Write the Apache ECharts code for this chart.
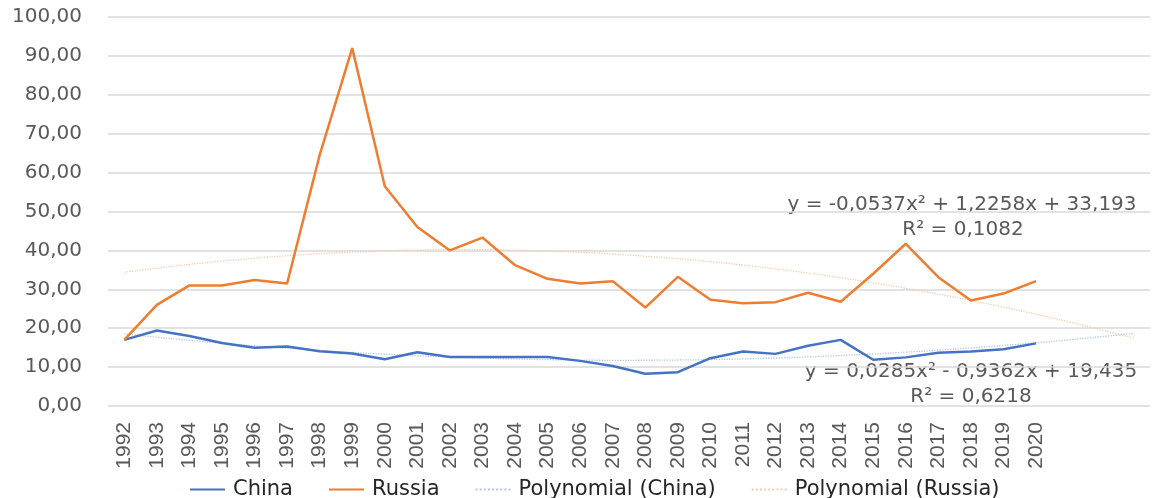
<!DOCTYPE html>
<html>
<head>
<meta charset="utf-8">
<script src="https://cdn.jsdelivr.net/npm/echarts@6/dist/echarts.min.js"></script>
<style>
  html, body { margin: 0; padding: 0; background: #fff; }
  #chart { width: 1157px; height: 498px; }
</style>
</head>
<body>
<div id="chart"></div>
<script>
// categories (the last 3 carry only the trendline forecast)
const years = ['1992','1993','1994','1995','1996','1997','1998','1999','2000','2001',
  '2002','2003','2004','2005','2006','2007','2008','2009','2010','2011',
  '2012','2013','2014','2015','2016','2017','2018','2019','2020','2021','2022','2023'];

const china = [17.0, 19.4, 18.0, 16.2, 15.0, 15.3, 14.1, 13.5, 12.0, 13.8,
  12.6, 12.6, 12.6, 12.6, 11.6, 10.3, 8.3, 8.7, 12.3, 14.0,
  13.4, 15.5, 17.0, 11.9, 12.5, 13.7, 14.0, 14.6, 16.1];

const russia = [17.0, 26.0, 31.0, 31.0, 32.4, 31.5, 64.5, 92.0, 56.5, 46.0,
  40.0, 43.3, 36.2, 32.7, 31.5, 32.1, 25.3, 33.2, 27.3, 26.4,
  26.7, 29.1, 26.8, 34.0, 41.7, 33.1, 27.1, 28.9, 32.1];

// polynomial trendlines as drawn (values read per category)
const chinaTrend = [18.53, 17.68, 16.88, 16.15, 15.47, 14.84, 14.28, 13.77, 13.32, 12.92,
  12.59, 12.31, 12.08, 11.91, 11.81, 11.75, 11.76, 11.82, 11.94, 12.11,
  12.34, 12.63, 12.98, 13.38, 13.84, 14.36, 14.93, 15.57, 16.25, 17.00, 17.80, 18.66];

const russiaTrend = [34.37, 35.43, 36.39, 37.24, 37.98, 38.62, 39.14, 39.56, 39.88, 40.08,
  40.18, 40.17, 40.05, 39.83, 39.50, 39.06, 38.51, 37.86, 37.10, 36.23,
  35.25, 34.17, 32.98, 31.68, 30.28, 28.76, 27.14, 25.42, 23.58, 21.64, 19.59, 17.43];

const yTicks = { min: 0, max: 100, interval: 10 };

const fontMain = "'DejaVu Sans', sans-serif";
const textGray = '#595959';

// legend icons: solid bar and a dotted bar
const solidIcon = 'path://M0,0H36V2H0Z';
let dotted = '';
for (let k = 0; k < 36; k += 4) {
  dotted += 'M' + k + ',0H' + (k + 2) + 'V2H' + k + 'Z';
}
const dottedIcon = 'path://' + dotted;

const myChart = echarts.init(document.getElementById('chart'));

const option = {
  backgroundColor: '#fff',
  animation: false,
  grid: {
    left: 108,
    right: 7,
    top: 17,
    bottom: 92,
    outerBoundsMode: 'none',
  },
  legend: {
    left: 185,
    top: 474,
    itemWidth: 35,
    itemHeight: 2.5,
    itemGap: 36,
    textStyle: {
      fontFamily: fontMain,
      fontSize: 21,
      color: '#262626',
      padding: [0, 0, 0, 3],
    },
    data: [
      { name: 'China', icon: solidIcon },
      { name: 'Russia', icon: solidIcon },
      { name: 'Polynomial (China)', icon: dottedIcon },
      { name: 'Polynomial (Russia)', icon: dottedIcon },
    ],
  },
  xAxis: {
    type: 'category',
    boundaryGap: true,
    data: years,
    axisLine: { show: false },
    axisTick: { show: false },
    axisLabel: {
      interval: 0,
      rotate: 90,
      margin: 16,
      fontFamily: "'Liberation Sans Narrow', 'Arial Narrow', 'Liberation Sans', sans-serif",
      fontSize: 21,
      color: textGray,
      formatter: function (v) {
        return Number(v) > 2020 ? '' : v;
      },
    },
  },
  yAxis: {
    type: 'value',
    min: yTicks.min,
    max: yTicks.max,
    interval: yTicks.interval,
    axisLine: { show: false },
    axisTick: { show: false },
    splitLine: { lineStyle: { color: '#d9d9d9', width: 1.5 } },
    axisLabel: {
      margin: 8,
      padding: [0, 18, 0, 0],
      fontFamily: fontMain,
      fontSize: 20,
      color: textGray,
      formatter: function (v) {
        return v.toFixed(2).replace('.', ',');
      },
    },
  },
  series: [
    {
      name: 'Polynomial (China)',
      type: 'line',
      data: chinaTrend,
      smooth: true,
      symbol: 'none',
      z: 1,
      lineStyle: { color: '#b4c7e7', width: 1.3, type: 'dotted' },
      itemStyle: { color: '#b4c7e7' },
    },
    {
      name: 'Polynomial (Russia)',
      type: 'line',
      data: russiaTrend,
      smooth: true,
      symbol: 'none',
      z: 1,
      lineStyle: { color: '#f8cbad', width: 1.3, type: 'dotted' },
      itemStyle: { color: '#f8cbad' },
    },
    {
      name: 'China',
      type: 'line',
      data: china,
      symbol: 'none',
      z: 3,
      lineStyle: { color: '#4472c4', width: 2.5 },
      itemStyle: { color: '#4472c4' },
    },
    {
      name: 'Russia',
      type: 'line',
      data: russia,
      symbol: 'none',
      z: 3,
      lineStyle: { color: '#ed7d31', width: 2.5 },
      itemStyle: { color: '#ed7d31' },
    },
  ],
  graphic: [
    {
      type: 'text', x: 962, y: 205,
      style: { text: 'y = -0,0537x² + 1,2258x + 33,193', font: "20px 'DejaVu Sans'", fill: textGray, align: 'center', verticalAlign: 'middle' },
    },
    {
      type: 'text', x: 963, y: 230,
      style: { text: 'R² = 0,1082', font: "20px 'DejaVu Sans'", fill: textGray, align: 'center', verticalAlign: 'middle' },
    },
    {
      type: 'text', x: 971, y: 372,
      style: { text: 'y = 0,0285x² - 0,9362x + 19,435', font: "20px 'DejaVu Sans'", fill: textGray, align: 'center', verticalAlign: 'middle' },
    },
    {
      type: 'text', x: 971, y: 397,
      style: { text: 'R² = 0,6218', font: "20px 'DejaVu Sans'", fill: textGray, align: 'center', verticalAlign: 'middle' },
    },
  ],
};

myChart.setOption(option);
window.addEventListener('resize', () => {
  myChart.resize();
});
</script>
</body>
</html>
